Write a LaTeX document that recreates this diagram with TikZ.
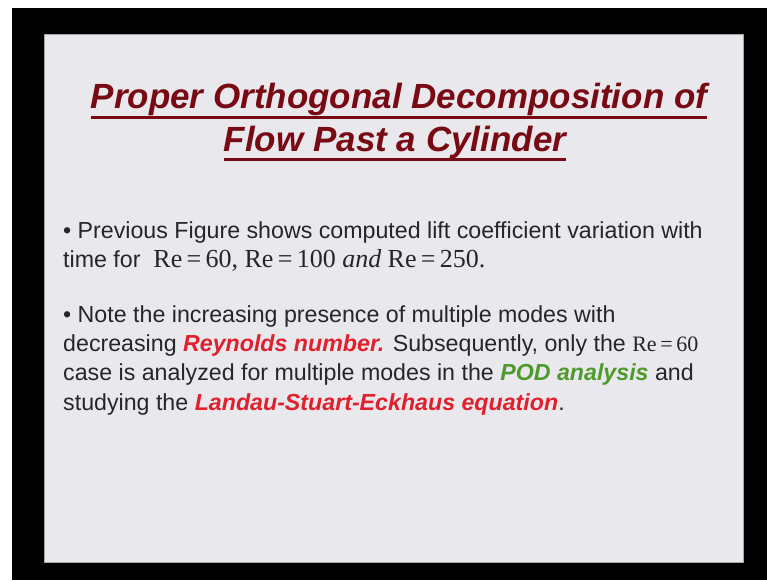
\documentclass[tikz,border=0pt]{standalone}
\usepackage{fontspec}
\setmainfont{Liberation Sans}
\newfontfamily\tnr{Liberation Serif}
\definecolor{titlered}{HTML}{780A14}
\definecolor{hired}{HTML}{E0202C}
\definecolor{hgreen}{HTML}{4F9A2C}
\definecolor{bodytext}{HTML}{262626}
\definecolor{slidebg}{HTML}{E9E8ED}
\newcommand\reeq[2]{{\tnr\fontsize{#1}{#1}\selectfont Re\,=\,#2}}
\newcommand\hl[2]{{\color{#1}\bfseries\itshape #2}}
\tikzset{
  titletxt/.style={anchor=base, text=titlered, font=\fontsize{35}{35}\selectfont\bfseries\itshape, inner sep=0pt},
  bodyline/.style={anchor=base west, text=bodytext, font=\fontsize{23.2}{23.2}\selectfont, inner sep=0pt},
  uline/.style={titlered, line width=2.5pt}
}
\begin{document}
\begin{tikzpicture}[x=1pt,y=-1pt]
  \useasboundingbox (0,0) rectangle (767,580);
  \fill[white] (0,0) rectangle (767,580);
  \fill[black] (12,8) rectangle (767,580);
  \fill[slidebg, draw=gray!70, line width=1pt] (44,35) rectangle (743,562);

  \node[titletxt] (t1) at (399,109) {Proper Orthogonal Decomposition of};
  \node[titletxt] (t2) at (395,151) {Flow Past a Cylinder};
  \draw[uline] ([yshift=-8.5pt]t1.base west) -- ([yshift=-8.5pt]t1.base east);
  \draw[uline] ([yshift=-8.5pt]t2.base west) -- ([yshift=-8.5pt]t2.base east);

  \node[bodyline] (b1) at (63,238) {• Previous Figure shows computed lift coefficient variation with};
  \node[bodyline] (b2) at (63,267) {time for \ \reeq{26}{60}{\tnr\fontsize{26}{26}\selectfont,} \reeq{26}{100} {\tnr\fontsize{26}{26}\selectfont\itshape and} \reeq{26}{250}{\tnr\fontsize{26}{26}\selectfont.}};
  \node[bodyline] (b3) at (63,322) {• Note the increasing presence of multiple modes with};
  \node[bodyline] (b4) at (63,351) {decreasing \hl{hired}{Reynolds number.} Subsequently, only the \reeq{22}{60}};
  \node[bodyline] (b5) at (63,380.5) {case is analyzed for multiple modes in the \hl{hgreen}{POD analysis} and};
  \node[bodyline] (b6) at (63,410) {studying the \hl{hired}{Landau-Stuart-Eckhaus equation}.};
\end{tikzpicture}
\end{document}
